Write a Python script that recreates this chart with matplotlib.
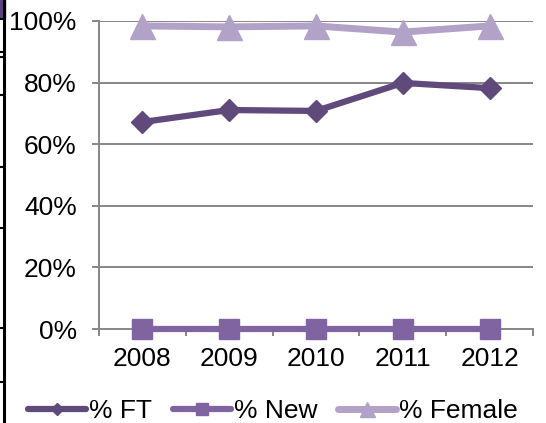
import numpy as np
import matplotlib
matplotlib.use("Agg")
import matplotlib.pyplot as plt
from matplotlib.lines import Line2D
from matplotlib.patches import Rectangle

years = ["2008", "2009", "2010", "2011", "2012"]
pct_ft = [67.2, 71.1, 70.8, 79.9, 78.2]
pct_new = [0, 0, 0, 0, 0]
pct_female = [98.4, 98.1, 98.4, 96.4, 98.4]

plt.rcParams['font.family'] = ['Liberation Sans', 'DejaVu Sans']

fig = plt.figure(figsize=(5.46, 4.23), dpi=100)
ax = fig.add_axes([99 / 546, 1 - 329 / 423, 434 / 546, 308 / 423])

x = np.arange(len(years))
grid_c = '#868686'

for v in range(20, 101, 20):
    ax.axhline(v, color=grid_c, lw=1.4, zorder=1)

ax.plot(x, pct_ft, color='#604A7B', lw=4.5, marker='D', ms=11,
        mec='#604A7B', label='% FT', zorder=3, clip_on=False,
        solid_capstyle='round')
ax.plot(x, pct_new, color='#8064A2', lw=4.5, marker='s', ms=14,
        mec='#8064A2', label='% New', zorder=3, clip_on=False,
        solid_capstyle='round')
ax.plot(x, pct_female, color='#B3A2C7', lw=5, marker='^', ms=18,
        mec='#B3A2C7', label='% Female', zorder=3, clip_on=False,
        solid_capstyle='round')

ax.set_xlim(-0.5, len(years) - 0.5)
ax.set_ylim(0, 100)
ax.set_yticks(range(0, 101, 20))
ax.set_yticklabels([f"{v}%" for v in range(0, 101, 20)])
ax.set_xticks(x)
ax.set_xticklabels(years)
ax.set_xticks(np.arange(-0.5, len(years), 1), minor=True)

for s in ['top', 'right']:
    ax.spines[s].set_visible(False)
for s in ['left', 'bottom']:
    ax.spines[s].set_color(grid_c)
    ax.spines[s].set_linewidth(1.4)

ax.tick_params(axis='y', direction='out', length=5, width=1.4, color=grid_c,
               labelsize=19, pad=11)
ax.tick_params(axis='x', which='major', length=0, labelsize=19, pad=13)
ax.tick_params(axis='x', which='minor', direction='out', length=5, width=1.4,
               color=grid_c)

leg = ax.legend(loc='center', bbox_to_anchor=(273 / 546, 1 - 411 / 423),
                bbox_transform=fig.transFigure, ncol=3, frameon=False,
                fontsize=19, handlelength=2.2, handletextpad=0.1,
                columnspacing=0.8, markerscale=0.6, borderpad=0)

# left border remnants
fig.add_artist(Line2D([4 / 546, 4 / 546], [0, 1], color='black', lw=2.2))
fig.add_artist(Rectangle((0, 1 - 18 / 423), 5 / 546, 18 / 423,
                         color='#5A4480', transform=fig.transFigure))
for yy in [19, 52, 57, 95, 167, 228, 328, 382]:
    fig.add_artist(Line2D([0, 4 / 546], [1 - yy / 423] * 2, color='black', lw=1.5))

fig.savefig('out.png', dpi=100)
